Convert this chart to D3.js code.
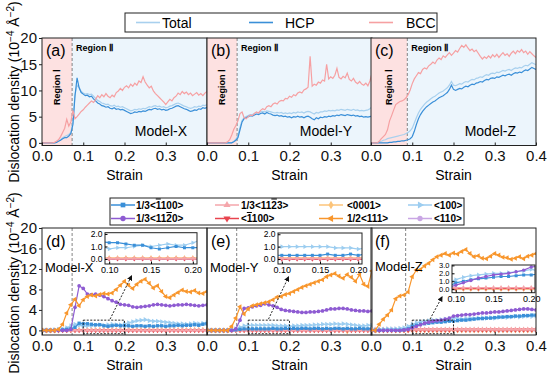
<!DOCTYPE html>
<html>
<head>
<meta charset="utf-8">
<script src="https://cdn.jsdelivr.net/npm/d3@7"></script>
<style>
body { margin: 0; background: #fff; }
svg { font-family: "Liberation Sans", Arial, sans-serif; }
</style>
</head>
<body>
<div id="chart"></div>
<script>
// ---------- data ----------
var strainTop = d3.range(81).map(function(i) { return i * 0.005; });
var strainBot = d3.range(41).map(function(i) { return i * 0.01; });

// top row: Total / HCP / BCC, Model-X, Y, Z
var totalX = [0,0,0,0,0,0,0, 0.1,0.4,0.6,1.0,1.2,1.4,1.6,2.0,4.0,9.2, 11.0,10.6,9.8,9.5,9.3,9.4,9.2,9.3,8.9,8.5, 8.1,7.9,7.6,7.5,7.3,7.4,7.1,7.0,7.2,6.9, 7.0,6.8,6.9,6.7,6.5,6.3,6.1,6.2,6.4,6.3, 6.5,6.4,6.6,6.5,6.7,6.9,6.8,7.0,7.1,6.9, 7.0,6.8,6.9,6.7,6.8,7.0,7.1,7.3,7.5,7.6, 7.4,7.2,7.0,6.9,6.7,6.6,6.7,6.9,6.8,7.0, 6.9,7.2,7.1,7.3];
var hcpX = [0,0,0,0,0,0,0, 0.1,0.3,0.5,0.8,1.0,1.0,1.3,1.8,3.5,9.0, 12.4,10.5,9.6,9.3,9.0,9.1,8.8,8.9,8.4,8.0, 7.6,7.4,7.1,7.0,6.8,6.9,6.6,6.5,6.7,6.4, 6.5,6.3,6.4,6.2,6.0,5.8,5.6,5.7,5.9,5.8, 6.0,5.9,6.1,6.0,6.2,6.4,6.3,6.5,6.6,6.4, 6.5,6.3,6.4,6.2,6.3,6.5,6.6,6.8,7.0,7.1, 6.9,6.7,6.5,6.4,6.2,6.0,6.1,6.3,6.2,6.5, 6.4,6.7,6.6,6.8];
var bccX = [0,0,0,0,0,0, 0.1,0.3,0.6,1.2,2.0,2.8,4.5,3.2,4.0,6.2, 4.6,5.0,5.5,6.0,6.3,6.8,7.2,7.6,8.0,7.7, 8.3,9.0,8.6,9.2,8.8,9.4,8.9,8.6,9.1,8.8, 9.6,9.9,10.4,10.0,10.6,10.9,10.5,11.2,10.8,11.4, 11.0,11.8,11.5,12.6,11.6,11.0,10.5,10.8,9.9,9.4, 9.0,8.6,8.2,7.8,7.3,7.8,8.3,8.0,8.6,8.9, 9.5,9.2,9.8,9.4,9.7,9.2,9.5,9.0,9.3,9.6, 9.1,9.4,9.0,9.5,9.8];

var totalY = [0,0,0,0,0,0,0,0,0,0,0,0,0, 0.3,0.7,1.4,3.0,4.3,4.8,5.0,5.2,5.4,5.4, 5.6,5.8,5.7,5.9,6.0,5.9,6.1,6.0,5.9,5.8, 5.7,5.8,5.7,5.8,5.6,5.7,5.6,5.7,5.6,5.8, 5.7,5.9,5.8,5.9,5.7,5.9,6.0,5.9,5.7,5.5, 5.8,5.7,5.9,5.9,6.1,6.0,6.2,6.1,6.2,6.1, 6.3,6.2,6.4,6.3,6.2,6.4,6.3,6.2,6.4,6.2, 6.3,6.1,6.2,6.1,6.2,6.3,6.5,6.9];
var hcpY = [0,0,0,0,0,0,0,0,0,0,0,0,0, 0.2,0.5,1.0,2.5,4.0,4.6,4.8,5.0,5.2,5.1, 5.3,5.5,5.4,5.6,5.7,5.5,5.8,5.6,5.5,5.3, 5.2,5.3,5.1,5.2,5.0,5.1,4.9,5.0,4.8,5.0, 4.9,5.1,4.9,5.0,4.8,5.0,5.1,4.9,4.6,4.4, 4.8,4.6,4.9,4.8,5.0,4.9,5.1,5.0,5.2,5.1, 5.3,5.2,5.4,5.3,5.2,5.4,5.3,5.2,5.3,5.1, 5.2,5.0,5.1,4.9,5.0,4.9,5.0,5.1];
var bccY = [0,0,0,0,0,0,0,0,0,0, 0.2,0.6,1.5,2.6,3.3,4.2,5.6,5.9,4.8,4.6, 5.0,5.3,5.2,5.6,5.9,5.7,6.2,6.5,6.3,6.9, 7.1,6.9,7.4,7.6,7.4,7.9,8.1,8.0,8.5,8.4, 8.9,8.7,9.2,9.0,9.5,9.7,9.5,10.1,10.3,10.6, 16.5,10.8,11.2,11.0,11.6,11.4,12.0,11.8,15.0,12.2, 12.6,12.3,12.9,14.2,12.5,12.2,12.7,12.4,13.3,12.1, 11.8,12.3,11.6,11.3,11.7,11.2,11.0,11.4,10.9,11.8, 13.3];

var totalZ = [0,0,0,0, 0.2,0.3,0.5,0.6,0.8,0.9,1.0,1.1,1.2,1.3, 1.4,1.5,1.6,1.8,2.0,2.3,2.8,3.8,4.8,5.7, 6.4,6.9,7.4,7.8,8.1,8.4,8.7,8.9,9.2,9.5, 9.7,9.9,10.2,10.5,11.0,11.7,11.0,10.9,11.1,11.3, 11.2,11.5,11.7,11.6,11.9,12.1,12.0,12.3,12.4,12.6, 12.5,12.8,13.0,12.9,13.2,13.3,13.2,13.5,13.4,13.6, 13.8,13.7,13.9,14.0,13.8,14.1,14.3,14.2,14.4,14.3, 14.6,14.8,14.7,15.0,15.3,15.1,14.9];
var hcpZ = [0,0,0,0,0,0,0,0,0, 0.1,0.1,0.2,0.2,0.3,0.3,0.4,0.4,0.5,0.6, 0.8,1.2,2.2,3.5,4.6,5.4,6.0,6.5,6.9,7.2, 7.5,7.8,8.0,8.3,8.6,8.8,9.0,9.3,9.6,10.2, 11.0,10.2,10.0,10.2,10.4,10.3,10.6,10.8,10.7,11.0, 11.2,11.1,11.4,11.5,11.7,11.6,11.9,12.1,12.0,12.3, 12.4,12.3,12.6,12.5,12.7,12.9,12.8,13.0,13.1,12.9, 13.2,13.4,13.3,13.5,13.4,13.7,13.9,13.8,14.1,14.4, 14.2,14.0];
var bccZ = [0,0,0,0, 0.3,0.8,1.2,1.6,2.5,4.2,5.2,6.3,7.3,7.6, 7.9,8.0,8.2,8.6,9.2,10.1,11.3,12.2,12.8,13.4, 13.2,14.0,14.3,14.1,14.7,15.0,15.4,15.1,15.8,16.2, 15.9,16.6,16.3,16.8,17.2,16.7,17.1,17.6,17.3,18.0, 18.6,18.2,18.7,18.1,17.6,17.9,17.4,17.7,17.1,16.5, 16.0,16.4,16.1,16.6,16.2,16.8,16.4,16.9,16.3,16.8, 17.2,16.7,17.0,16.5,17.1,17.5,17.0,17.6,17.3,17.8, 17.2,17.5,16.9,17.4,17.0,16.6,16.3];

var topNames = ['Total', 'HCP', 'BCC'];
var topColors = ['#a8d0ee', '#3a8fd8', '#f6a0a2'];
var topData = [[totalX, hcpX, bccX], [totalY, hcpY, bccY], [totalZ, hcpZ, bccZ]];

// bottom row: dislocation types
var dirLabels = ['1/3<~1100>', '1/3<11~20>', '1/3<11~23>', '<~1100>', '<0001>', '1/2<111>', '<100>', '<110>'];
var dirColors = ['#3a8fd8', '#8e5bd2', '#f5a6ab', '#e8444f', '#fcc47a', '#f8962c', '#9ccdf0', '#c9a6e4'];

var x1100 = [0,0,0,0,0,0.1,0.2,0.3,0.6,1.4, 1.3,1.3,1.2,1.1,1.1,0.9,0.8,0.9,1.0,0.9, 0.9,0.9,0.8,0.9,0.9,0.8,0.9,0.8,0.9,0.9, 0.8,0.9,0.9,1.0,0.9,1.0,1.0,1.1,1.0,1.2, 1.3];
var x1120 = [0,0,0,0,0,0,0,0.2,4.5,8.7, 8.2,7.1,7.0,7.1,6.9,6.6,6.2,5.8,5.5,5.1, 5.0,4.9,4.6,4.5,4.6,4.7,4.8,5.0,5.1,5.0, 4.9,4.8,4.9,5.0,5.0,5.1,5.0,4.9,4.8,4.9, 5.0];
var x1123 = [0,0,0,0,0,0,0,0,0.05,0.05, 0.05,0.05,0.05,0.05,0.05,0.05,0.05,0.05,0.05,0.05, 0.05,0.05,0.05,0.05,0.05,0.05,0.05,0.05,0.05,0.05, 0.05,0.05,0.05,0.05,0.05,0.05,0.05,0.05,0.05,0.05, 0.05];
var xm1100 = [0,0,0,0,0,0,0,0,0,0, 0,0,0,0,0,0,0,0,0,0, 0,0,0,0,0,0,0,0,0,0, 0,0,0,0,0,0,0,0,0,0, 0];
var x0001 = [0,0,0,0,0,0.1,0.1,0.1,0.1,0.1, 0.1,0.1,0.1,0.1,0.1,0.1,0.1,0.1,0.1,0.1, 0.1,0.1,0.1,0.1,0.1,0.1,0.1,0.1,0.1,0.1, 0.1,0.1,0.1,0.1,0.1,0.1,0.1,0.1,0.1,0.1, 0.1];
var x111 = [0,0,0,0,0.2,1.2,3.4,5.0,6.1,4.8, 6.0,6.6,6.9,6.7,7.0,7.2,7.1,7.3,8.0,8.8, 9.6,8.8,8.2,9.0,9.6,10.0,9.2,8.3,8.7,7.6, 6.6,6.4,6.9,7.4,7.9,7.6,7.5,7.8,7.3,7.2, 7.6];
var x100 = [0,0,0,0.1,0.2,0.3,0.5,0.9,1.2,1.0, 0.8,0.9,0.9,1.0,1.1,1.0,1.1,1.2,1.1,1.1, 1.3,1.5,1.7,1.9,2.0,2.1,1.9,1.8,1.8,1.7, 1.6,1.5,1.4,1.3,1.3,1.2,1.3,1.4,1.3,1.4, 1.5];
var x110 = [0,0,0,0,0,0,0,0,0,0, 0,0,0,0,0,0,0,0,0,0, 0,0,0,0,0,0,0,0,0,0, 0,0,0,0,0,0,0,0,0,0, 0];

var y1100 = [0,0,0,0,0,0,0,0.1,0.2,0.3, 0.3,0.3,0.3,0.3,0.3,0.3,0.4,0.3,0.3,0.4, 0.3,0.4,0.3,0.4,0.4,0.3,0.4,0.4,0.3,0.4, 0.3,0.4,0.4,0.3,0.4,0.3,0.3,0.4,0.3,0.3, 0.4];
var y1120 = [0,0,0,0,0,0,0,0.3,2.0,4.3, 4.4,4.6,4.8,4.9,5.2,5.0,4.8,4.5,4.1,3.9, 3.8,3.7,3.6,3.5,3.5,3.6,3.6,3.7,3.8,4.0, 4.2,4.2,4.3,4.3,4.2,4.0,3.9,3.8,3.8,3.7, 3.8];
var y1123 = [0,0,0,0,0,0,0,0,0.05,0.05, 0.05,0.05,0.05,0.05,0.05,0.05,0.05,0.05,0.05,0.05, 0.05,0.05,0.05,0.05,0.05,0.05,0.05,0.05,0.05,0.05, 0.05,0.05,0.05,0.05,0.05,0.05,0.05,0.05,0.05,0.05, 0.05];
var ym1100 = [0,0,0,0,0,0,0,0,0,0, 0,0,0,0,0,0,0,0,0,0, 0,0,0,0,0,0,0,0,0,0, 0,0,0,0,0,0,0,0,0,0, 0];
var y0001 = [0,0,0,0,0,0,0.1,0.1,0.1,0.1, 0.1,0.1,0.1,0.1,0.1,0.1,0.1,0.1,0.1,0.1, 0.1,0.1,0.1,0.1,0.1,0.1,0.1,0.1,0.1,0.1, 0.1,0.1,0.1,0.1,-0.2,0.1,0.1,0.1,0.1,0.1, 0.1];
var y111 = [0,0,0,0,0,0,0.8,2.4,4.6,3.2, 4.2,4.8,5.0,5.2,5.4,5.6,6.0,6.5,6.6,7.0, 7.2,7.6,8.0,8.4,8.7,9.0,9.3,9.6,9.9,10.5, 10.8,11.1,10.6,10.2,10.9,10.4,9.6,10.9,9.0,8.6, 11.6];
var y100 = [0,0,0,0,0,0,0.1,0.3,0.6,0.9, 1.0,1.0,1.0,1.0,1.0,1.0,1.0,0.9,0.9,0.9, 0.8,0.9,0.9,1.0,1.0,1.0,1.1,1.1,1.2,1.2, 1.2,1.3,1.2,1.3,1.2,1.1,1.0,0.9,0.9,1.0, 1.0];
var y110 = [0,0,0,0,0,0,0,0,0,0, 0,0,0,0,0,0,0,0,0,0, 0,0,0,0,0,0,0,0,0,0, 0,0,0,0,0,0,0,0,0,0, 0];

var z1100 = [0,0,0,0,0,0,0,0,0.1,0.3, 0.8,1.0,1.2,1.3,1.4,1.5,1.6,1.6,1.7,1.8, 1.8,1.9,2.0,2.0,2.1,2.2,2.3,2.3,2.4,2.4, 2.5,2.6,2.6,2.7,2.7,2.8,2.8,2.9,2.9,3.0, 3.0];
var z1120 = [0,0,0,0,0,0,0,0,0.1,0.2, 0.5,0.8,1.1,1.4,1.6,1.8,1.9,2.0,2.2,2.4, 2.8,2.9,3.0,3.1,3.1,3.2,3.3,3.4,3.4,3.5, 3.6,3.6,3.7,3.8,3.9,4.0,4.1,4.2,4.2,4.1, 4.0];
var z1123 = [0.2,0.2,0.2,0.2,0.2,0.2,0.2,0.2,0.2,0.2, 0.2,0.2,0.2,0.2,0.2,0.2,0.2,0.2,0.2,0.2, 0.2,0.2,0.2,0.2,0.2,0.2,0.2,0.2,0.2,0.2, 0.2,0.2,0.2,0.2,0.2,0.2,0.2,0.2,0.2,0.2, 0.2];
var zm1100 = [0,0,0,0,0,0,0,0,0,0, 0.1,0.1,0.1,0.1,0.1,0.1,0.1,0.1,0.1,0.1, 0.1,0.1,0.1,0.1,0.1,0.1,0.1,0.1,0.1,0.1, 0.1,0.1,0.1,0.1,0.1,0.1,0.1,0.1,0.1,0.1, 0.1];
var z0001 = [0,0,0,0,0,0,0,0,0,0, 0,0,0,0,0,0,0,0,0,0, 0,0,0,0,0,0,0,0,0,0, 0,0,0,0,0,0,0,0,0,0, 0];
var z111 = [0,0,1.2,2.2,3.0,4.0,6.2,6.7,6.9,7.5, 10.5,11.8,11.9,12.6,13.1,13.8,14.4,14.7,15.0,14.7, 15.1,14.9,15.4,15.8,15.0,14.4,14.6,14.1,14.0,14.5, 15.0,14.7,14.3,14.2,13.9,14.1,14.4,14.0,14.5,14.7, 15.0];
var z100 = [0.1,0.1,0.2,0.2,0.3,0.3,0.3,0.4,0.5,0.8, 1.2,1.5,1.7,1.8,1.9,2.0,2.0,2.1,2.2,2.3, 2.5,2.3,2.2,2.3,2.4,2.3,2.4,2.5,2.4,2.5, 2.4,2.5,2.6,2.5,2.6,2.7,2.6,2.7,2.8,2.7, 2.8];
var z110 = [0,0,0,0,0,0,0,0,0,0, 0,0,0,0,0,0,0,0,0,0, 0,0,0,0,0,0,0,0,0,0, 0,0,0,0,0,0,0,0,0,0, 0];

var botData = [
  [x1100, x1120, x1123, xm1100, x0001, x111, x100, x110],
  [y1100, y1120, y1123, ym1100, y0001, y111, y100, y110],
  [z1100, z1120, z1123, zm1100, z0001, z111, z100, z110]
];

var regionEdge = [0.073, 0.073, 0.088];
var botDash = [0.073, 0.072, 0.084];
var models = ['Model-X', 'Model-Y', 'Model-Z'];

// ---------- layout ----------
var width = 550, height = 378;
var panelX = [42, 207, 371], panelW = 165;
var topT = 38, topB = 145.5, botT = 228, botB = 335;

var symTypes = [d3.symbolSquare, d3.symbolCircle, d3.symbolTriangle, d3.symbolTriangle,
                d3.symbolDiamond, d3.symbolTriangle, d3.symbolTriangle, d3.symbolCircle];
var symRot = [0, 0, 0, 180, 0, -90, 90, 0];
var drawOrder = [7, 4, 3, 2, 6, 0, 1, 5];

var svg = d3.select('#chart').append('svg')
  .attr('width', width)
  .attr('height', height);

var defs = svg.append('defs');
defs.append('marker')
  .attr('id', 'arrow')
  .attr('viewBox', '0 0 10 10')
  .attr('refX', 8).attr('refY', 5)
  .attr('markerWidth', 6).attr('markerHeight', 6)
  .attr('orient', 'auto')
  .append('path')
  .attr('d', 'M0,0L10,5L0,10z')
  .attr('fill', '#111');

function clip(id, x, y, w, h) {
  defs.append('clipPath').attr('id', id)
    .append('rect').attr('x', x).attr('y', y).attr('width', w).attr('height', h);
  return 'url(#' + id + ')';
}

function addText(parts, sel) {
  // "~" means: overline the next character
  var buf = '';
  for (var k = 0; k < parts.length; k++) {
    if (parts[k] === '~') {
      if (buf) sel.append('tspan').text(buf);
      buf = '';
      sel.append('tspan').style('text-decoration', 'overline').text(parts[k + 1]);
      k++;
    } else {
      buf += parts[k];
    }
  }
  if (buf) sel.append('tspan').text(buf);
}

function yLabel(cy) {
  var t = svg.append('text')
    .attr('transform', 'translate(19,' + cy + ') rotate(-90)')
    .attr('text-anchor', 'middle')
    .style('font-size', '14px');
  t.append('tspan').text('Dislocation density (10');
  t.append('tspan').attr('dy', -5).style('font-size', '10px').text('\u22124');
  t.append('tspan').attr('dy', 5).text(' \u00C5');
  t.append('tspan').attr('dy', -5).style('font-size', '10px').text('\u22122');
  t.append('tspan').attr('dy', 5).text(')');
}

function xAxis(x, yPos, i) {
  var vals = i === 2 ? [0, 0.1, 0.2, 0.3, 0.4] : [0, 0.1, 0.2, 0.3];
  var g = svg.append('g')
    .attr('transform', 'translate(0,' + yPos + ')')
    .call(d3.axisBottom(x).tickValues(vals).tickFormat(d3.format('.1f'))
      .tickSizeInner(-3).tickSizeOuter(0).tickPadding(5));
  g.select('.domain').remove();
  g.selectAll('line').attr('stroke', '#222');
  g.selectAll('text').style('font-size', '15px').attr('fill', '#111');
}

function yAxis(y, vals) {
  var g = svg.append('g')
    .attr('transform', 'translate(' + panelX[0] + ',0)')
    .call(d3.axisLeft(y).tickValues(vals).tickSizeInner(3).tickSizeOuter(0).tickPadding(2));
  g.select('.domain').remove();
  g.selectAll('line').attr('stroke', '#222');
  g.selectAll('text').style('font-size', '15px').attr('fill', '#111');
}

// ---------- top row ----------
var yTop = d3.scaleLinear().domain([-0.5, 20]).range([topB, topT]);
var topLabels = ['(a)', '(b)', '(c)'];

topData.forEach(function(series, i) {
  var x = d3.scaleLinear().domain([0, 0.4]).range([panelX[i], panelX[i] + panelW]);
  var edge = regionEdge[i];

  svg.append('rect')
    .attr('x', x(0)).attr('y', topT)
    .attr('width', x(edge) - x(0)).attr('height', topB - topT)
    .attr('fill', '#fde1e1');
  svg.append('rect')
    .attr('x', x(edge)).attr('y', topT)
    .attr('width', x(0.4) - x(edge)).attr('height', topB - topT)
    .attr('fill', '#ecf5fc');
  svg.append('line')
    .attr('x1', x(edge)).attr('x2', x(edge))
    .attr('y1', topT).attr('y2', topB)
    .attr('stroke', '#777').attr('stroke-width', 0.9)
    .attr('stroke-dasharray', '3,2');

  var line = d3.line()
    .x(function(d, k) { return x(strainTop[k]); })
    .y(function(d) { return yTop(d); });

  var g = svg.append('g').attr('clip-path', clip('ct' + i, panelX[i], topT, panelW, topB - topT));
  series.forEach(function(vals, s) {
    g.append('path')
      .attr('d', line(vals))
      .attr('fill', 'none')
      .attr('stroke', topColors[s])
      .attr('stroke-width', 1.2);
  });

  svg.append('rect')
    .attr('x', panelX[i]).attr('y', topT)
    .attr('width', panelW).attr('height', topB - topT)
    .attr('fill', 'none').attr('stroke', '#222').attr('stroke-width', 1);

  xAxis(x, topB, i);

  svg.append('text').attr('x', panelX[i] + 4).attr('y', 56)
    .style('font-size', '16px').text(topLabels[i]);
  svg.append('text').attr('x', x(edge) + 4).attr('y', 50.5)
    .style('font-size', '9px').style('font-weight', 'bold').text('Region \u2161');
  svg.append('text')
    .attr('transform', 'translate(' + ((x(0) + x(edge)) / 2 + 3) + ',87) rotate(-90)')
    .attr('text-anchor', 'middle')
    .style('font-size', '9px').style('font-weight', 'bold').text('Region \u2160');
  svg.append('text').attr('x', panelX[i] + panelW - 20).attr('y', 136)
    .attr('text-anchor', 'end')
    .style('font-size', '14px').text(models[i]);
  svg.append('text').attr('x', panelX[i] + panelW / 2).attr('y', 180)
    .attr('text-anchor', 'middle').style('font-size', '14px').text('Strain');
});
yAxis(yTop, [0, 5, 10, 15, 20]);
yLabel(92);

// top legend
svg.append('rect').attr('x', 125).attr('y', 13).attr('width', 312).attr('height', 19)
  .attr('fill', '#fff').attr('stroke', '#222').attr('stroke-width', 1);
var topLeg = [[136, 162], [249, 285], [369, 406]];
topNames.forEach(function(n, s) {
  svg.append('line').attr('x1', topLeg[s][0]).attr('x2', topLeg[s][0] + 24)
    .attr('y1', 22.5).attr('y2', 22.5)
    .attr('stroke', topColors[s]).attr('stroke-width', 1.6);
  svg.append('text').attr('x', topLeg[s][1]).attr('y', 27.5)
    .style('font-size', '14px').text(n);
});

// ---------- bottom row ----------
var yBot = d3.scaleLinear().domain([-0.9, 20]).range([botB, botT]);
var botLabels = ['(d)', '(e)', '(f)'];
var insetBox = [
  { x0: 105, x1: 197, y0: 232.7, y1: 264, yd: [-0.4, 2.1], yt: [0, 1, 2], fs: 8.5 },
  { x0: 278, x1: 362, y0: 233, y1: 264, yd: [-0.4, 2.1], yt: [0, 1, 2], fs: 8.5 },
  { x0: 452, x1: 535, y0: 265, y1: 292.7, yd: [-0.45, 3.05], yt: [0, 1, 2, 3], fs: 7.5 }
];
var arrowStart = [0.165, 0.149, 0.143];
var arrowEnd = [[131.5, 276], [288.5, 277], [442, 297]];
var modelPos = [[45, 272], [210, 272], [375, 271]];

function drawSeries(g, x, y, vals, s, msize) {
  var line = d3.line()
    .x(function(d, k) { return x(strainBot[k]); })
    .y(function(d) { return y(d); });
  g.append('path').attr('d', line(vals))
    .attr('fill', 'none').attr('stroke', dirColors[s]).attr('stroke-width', 1.2);
  var sym = d3.symbol().type(symTypes[s]).size(msize);
  g.selectAll(null).data(vals).enter().append('path')
    .attr('d', sym)
    .attr('transform', function(d, k) {
      return 'translate(' + x(strainBot[k]) + ',' + y(d) + ') rotate(' + symRot[s] + ')';
    })
    .attr('fill', dirColors[s]);
}

botData.forEach(function(series, i) {
  var x = d3.scaleLinear().domain([0, 0.4]).range([panelX[i], panelX[i] + panelW]);

  svg.append('line')
    .attr('x1', x(botDash[i])).attr('x2', x(botDash[i]))
    .attr('y1', botT).attr('y2', botB)
    .attr('stroke', '#777').attr('stroke-width', 0.9)
    .attr('stroke-dasharray', '3,2');

  var g = svg.append('g').attr('clip-path', clip('cb' + i, panelX[i], botT, panelW, botB - botT));
  drawOrder.forEach(function(s) { drawSeries(g, x, yBot, series[s], s, 11); });

  svg.append('rect')
    .attr('x', panelX[i]).attr('y', botT)
    .attr('width', panelW).attr('height', botB - botT)
    .attr('fill', 'none').attr('stroke', '#222').attr('stroke-width', 1);

  xAxis(x, botB, i);

  svg.append('text').attr('x', panelX[i] + 4).attr('y', 247)
    .style('font-size', '16px').text(botLabels[i]);
  svg.append('text').attr('x', modelPos[i][0]).attr('y', modelPos[i][1])
    .style('font-size', '13px').text(models[i]);
  svg.append('text').attr('x', panelX[i] + panelW / 2).attr('y', 370)
    .attr('text-anchor', 'middle').style('font-size', '14px').text('Strain');

  // zoom box + arrow
  svg.append('rect')
    .attr('x', x(0.1)).attr('y', yBot(2.0))
    .attr('width', x(0.2) - x(0.1)).attr('height', yBot(-0.65) - yBot(2.0))
    .attr('fill', 'none').attr('stroke', '#111').attr('stroke-width', 0.9)
    .attr('stroke-dasharray', '2,1.5');
  svg.append('line')
    .attr('x1', x(arrowStart[i])).attr('y1', yBot(2.0) - 1)
    .attr('x2', arrowEnd[i][0]).attr('y2', arrowEnd[i][1])
    .attr('stroke', '#111').attr('stroke-width', 0.9)
    .attr('stroke-dasharray', '2,1.5')
    .attr('marker-end', 'url(#arrow)');

  // inset
  var b = insetBox[i];
  var xi = d3.scaleLinear().domain([0.095, 0.205]).range([b.x0, b.x1]);
  var yi = d3.scaleLinear().domain(b.yd).range([b.y1, b.y0]);
  svg.append('rect').attr('x', b.x0).attr('y', b.y0)
    .attr('width', b.x1 - b.x0).attr('height', b.y1 - b.y0).attr('fill', '#fff');
  var gi = svg.append('g').attr('clip-path', clip('ci' + i, b.x0, b.y0, b.x1 - b.x0, b.y1 - b.y0));
  drawOrder.forEach(function(s) { drawSeries(gi, xi, yi, series[s], s, 9); });
  svg.append('rect').attr('x', b.x0).attr('y', b.y0)
    .attr('width', b.x1 - b.x0).attr('height', b.y1 - b.y0)
    .attr('fill', 'none').attr('stroke', '#222').attr('stroke-width', 1);

  var ga = svg.append('g').attr('transform', 'translate(0,' + b.y1 + ')')
    .call(d3.axisBottom(xi).tickValues([0.1, 0.15, 0.2]).tickFormat(d3.format('.2f'))
      .tickSizeInner(-2.5).tickSizeOuter(0).tickPadding(3));
  ga.select('.domain').remove();
  ga.selectAll('text').style('font-size', '9px');
  var gy = svg.append('g').attr('transform', 'translate(' + b.x0 + ',0)')
    .call(d3.axisLeft(yi).tickValues(b.yt).tickSizeInner(-2.5).tickSizeOuter(0).tickPadding(2.5));
  gy.select('.domain').remove();
  gy.selectAll('text').style('font-size', b.fs + 'px');
});
yAxis(yBot, [0, 4, 8, 12, 16, 20]);
yLabel(283);

// bottom legend
svg.append('rect').attr('x', 110).attr('y', 198).attr('width', 354).attr('height', 27)
  .attr('fill', '#fff').attr('stroke', '#222').attr('stroke-width', 1);
var legCol = [[111, 136], [215, 241], [319, 347], [408, 434]];
var legRow = [205, 218.5];
dirLabels.forEach(function(lab, s) {
  var c = Math.floor(s / 2), r = s % 2;
  var x0 = legCol[c][0], yy = legRow[r];
  svg.append('line').attr('x1', x0).attr('x2', x0 + 24)
    .attr('y1', yy).attr('y2', yy)
    .attr('stroke', dirColors[s]).attr('stroke-width', 1.5);
  svg.append('path')
    .attr('d', d3.symbol().type(symTypes[s]).size(22))
    .attr('transform', 'translate(' + (x0 + 12) + ',' + yy + ') rotate(' + symRot[s] + ')')
    .attr('fill', dirColors[s]);
  var t = svg.append('text').attr('x', legCol[c][1]).attr('y', yy + 3.5)
    .style('font-size', '10px').style('font-weight', 'bold');
  addText(lab, t);
});
</script>
</body>
</html>
